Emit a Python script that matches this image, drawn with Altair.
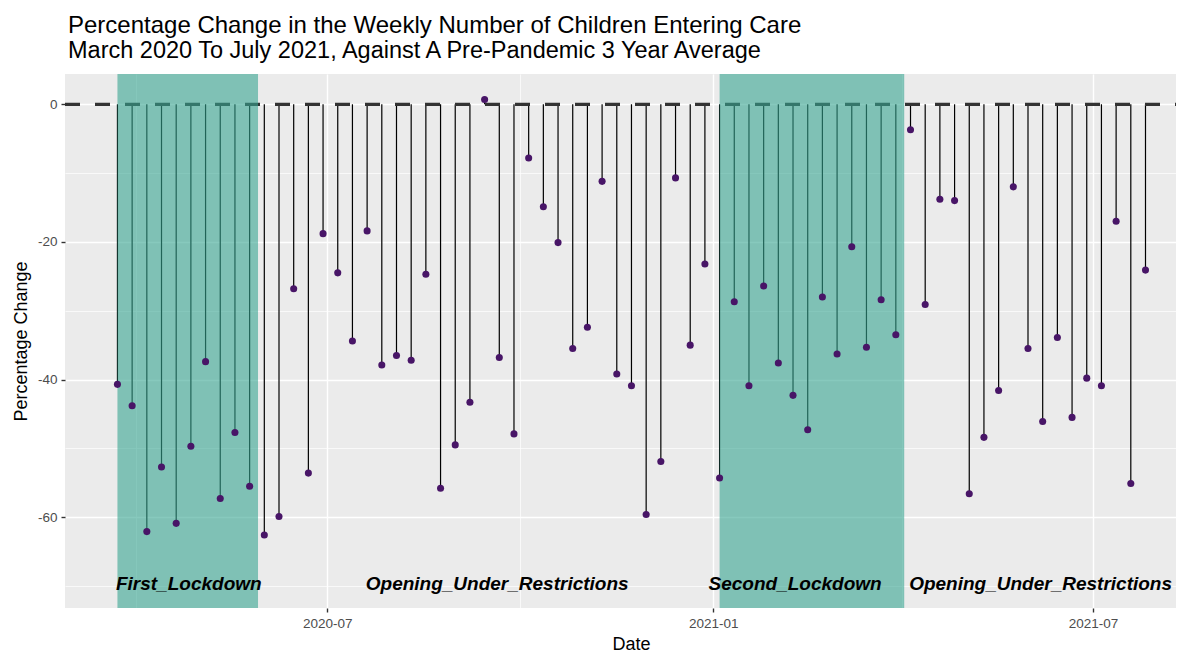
import altair as alt
import pandas as pd

# ---- data ----
dates = [
    "2020-03-23", "2020-03-30", "2020-04-06", "2020-04-13", "2020-04-20", "2020-04-27",
    "2020-05-04", "2020-05-11", "2020-05-18", "2020-05-25", "2020-06-01", "2020-06-08",
    "2020-06-15", "2020-06-22", "2020-06-29", "2020-07-06", "2020-07-13", "2020-07-20",
    "2020-07-27", "2020-08-03", "2020-08-10", "2020-08-17", "2020-08-24", "2020-08-31",
    "2020-09-07", "2020-09-14", "2020-09-21", "2020-09-28", "2020-10-05", "2020-10-12",
    "2020-10-19", "2020-10-26", "2020-11-02", "2020-11-09", "2020-11-16", "2020-11-23",
    "2020-11-30", "2020-12-07", "2020-12-14", "2020-12-21", "2020-12-28", "2021-01-04",
    "2021-01-11", "2021-01-18", "2021-01-25", "2021-02-01", "2021-02-08", "2021-02-15",
    "2021-02-22", "2021-03-01", "2021-03-08", "2021-03-15", "2021-03-22", "2021-03-29",
    "2021-04-05", "2021-04-12", "2021-04-19", "2021-04-26", "2021-05-03", "2021-05-10",
    "2021-05-17", "2021-05-24", "2021-05-31", "2021-06-07", "2021-06-14", "2021-06-21",
    "2021-06-28", "2021-07-05", "2021-07-12", "2021-07-19", "2021-07-26",
]
pct_change = [
    -40.7, -43.8, -62.1, -52.7, -60.9, -49.7, -37.4, -57.3, -47.7, -55.5,
    -62.6, -59.9, -26.8, -53.6, -18.8, -24.5, -34.4, -18.4, -37.9, -36.5,
    -37.2, -24.7, -55.8, -49.5, -43.3, 0.7, -36.8, -47.9, -7.8, -14.9,
    -20.1, -35.5, -32.4, -11.2, -39.2, -40.9, -59.6, -51.9, -10.7, -35.0,
    -23.2, -54.3, -28.7, -40.9, -26.4, -37.6, -42.3, -47.3, -28.0, -36.3,
    -20.7, -35.3, -28.4, -33.5, -3.7, -29.1, -13.8, -14.0, -56.6, -48.4,
    -41.6, -12.0, -35.5, -46.1, -33.9, -45.5, -39.8, -40.9, -17.0, -55.1, -24.1,
]

lockdown_start = ["2020-03-23", "2021-01-04"]
lockdown_end = ["2020-05-29", "2021-04-02"]

period_labels = ["First_Lockdown", "Opening_Under_Restrictions",
                 "Second_Lockdown", "Opening_Under_Restrictions"]
period_label_dates = ["2020-04-26", "2020-09-20", "2021-02-09", "2021-06-06"]
period_label_y = [-70, -70, -70, -70]

reference_line = [0]

y_ticks = [0, -10, -20, -30, -40, -50, -60, -70]

# ---- tables ----
df = pd.DataFrame({"date": dates, "value": pct_change, "zero": [0] * len(dates)})
df_lock = pd.DataFrame({"start": lockdown_start, "end": lockdown_end})
df_lab = pd.DataFrame({"date": period_label_dates, "label": period_labels, "y": period_label_y})
df_ref = pd.DataFrame({"ref": reference_line})

W, H = 1111, 534
FONT = "Liberation Sans"

xscale = alt.Scale(domain=[alt.DateTime(year=2020, month=2, date=27),
                           alt.DateTime(year=2021, month=8, date=9, hours=13)])
yscale = alt.Scale(domain=[-73.2, 4.4], nice=False, zero=False)

x_values = [
    alt.DateTime(year=2020, month=4, date=1),
    alt.DateTime(year=2020, month=7, date=1),
    alt.DateTime(year=2020, month=10, date=1),
    alt.DateTime(year=2021, month=1, date=1),
    alt.DateTime(year=2021, month=4, date=1),
    alt.DateTime(year=2021, month=7, date=1),
]

major_x = "month(datum.value) % 6 == 0"
major_y = "datum.value % 20 == 0"

xaxis = alt.Axis(
    values=x_values,
    labelExpr="month(datum.value) % 6 == 0 ? timeFormat(datum.value, '%Y-%m') : ''",
    gridWidth={"condition": {"test": major_x, "value": 1.4}, "value": 0.7},
    tickOpacity={"condition": {"test": major_x, "value": 1}, "value": 0},
    title="Date",
    titleX=566,
    titlePadding=6,
    labelPadding=4,
)
yaxis = alt.Axis(
    values=y_ticks,
    labelExpr="datum.value % 20 == 0 ? toString(datum.value) : ''",
    gridWidth={"condition": {"test": major_y, "value": 1.4}, "value": 0.7},
    tickOpacity={"condition": {"test": major_y, "value": 1}, "value": 0},
    title="Percentage Change",
    titlePadding=7,
    labelPadding=4,
)

segments = alt.Chart(df).mark_rule(color="black", strokeWidth=1.2).encode(
    x=alt.X("date:T", scale=xscale, axis=xaxis),
    y=alt.Y("value:Q", scale=yscale, axis=yaxis),
    y2="zero:Q",
)

hline = alt.Chart(df_ref).mark_rule(
    color="#333333", strokeWidth=3.3, strokeDash=[15, 15]
).encode(y=alt.Y("ref:Q"), x=alt.value(0), x2=alt.value(W))

shade = alt.Chart(df_lock).mark_rect(color="#37A591", opacity=0.6).encode(
    x=alt.X("start:T"),
    x2="end:T",
    y=alt.value(0),
    y2=alt.value(H),
)

points = alt.Chart(df).mark_circle(size=50, color="#481567", opacity=1).encode(
    x=alt.X("date:T"),
    y=alt.Y("value:Q"),
)

labels = alt.Chart(df_lab).mark_text(
    font=FONT, fontSize=19, fontStyle="italic", fontWeight="bold",
    color="black", align="center", baseline="alphabetic", dy=4.5,
).encode(
    x=alt.X("date:T"),
    y=alt.Y("y:Q"),
    text="label:N",
)

chart = alt.layer(segments, hline, shade, points, labels).properties(
    width=W,
    height=H,
    autosize=alt.AutoSizeParams(type="none"),
    padding={"left": 57, "top": 66, "right": 0, "bottom": 46},
    title=alt.Title(
        text="Percentage Change in the Weekly Number of Children Entering Care",
        subtitle="March 2020 To July 2021, Against A Pre-Pandemic 3 Year Average",
        anchor="start",
        frame="group",
        dx=3,
        offset=12,
        font=FONT,
        fontSize=24,
        fontWeight="normal",
        color="black",
        subtitleFont=FONT,
        subtitleFontSize=23.5,
        subtitleColor="black",
        subtitlePadding=1,
    ),
).configure_view(
    fill="#EBEBEB", strokeWidth=0
).configure_axis(
    grid=True,
    gridColor="white",
    domain=False,
    tickColor="#333333",
    tickSize=4,
    tickWidth=1.4,
    labelFont=FONT,
    labelFontSize=13.5,
    labelColor="#4D4D4D",
    titleFont=FONT,
    titleFontSize=18,
    titleFontWeight="normal",
    titleColor="black",
)

chart.save("out.html", embed_options={"renderer": "svg", "actions": False})
